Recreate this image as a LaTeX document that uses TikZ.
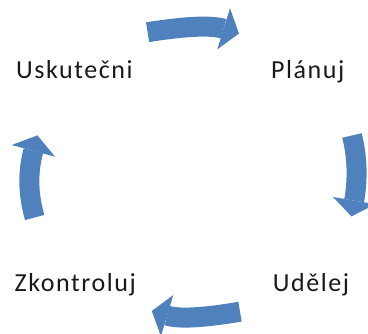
\documentclass[tikz,border=0pt]{standalone}
\usepackage{fontspec}
\setmainfont{Carlito}[LetterSpace=6]
\usetikzlibrary{calc}
\definecolor{cycleblue}{HTML}{4F81BD}
\tikzset{
  label/.style={anchor=base west, inner sep=0pt, font=\fontsize{26}{30}\selectfont, text=black!90},
  shaft/.style={draw=cycleblue, line width=20pt, line cap=butt},
  head/.style={fill=cycleblue, draw=none},
}
% curved block arrow: #1 start, #2 quadratic control, #3 head base centre,
% #4/#5 head base corners, #6 tip
\newcommand\blockarrow[6]{%
  \draw[shaft] #1 .. controls ($#1!2/3!#2$) and ($#3!2/3!#2$) .. #3;
  \fill[head] #4 -- #6 -- #5 -- cycle;
}
\begin{document}
\begin{tikzpicture}[x=1pt,y=-1pt]
  \useasboundingbox (0,0) rectangle (368,334);
  \clip (0,0) rectangle (368,334);

  \node[label] (usk) at (16,78.3) {Uskutečni};
  \node[label] (plan) at (271,78.3) {Plánuj};
  \node[label] (zkon) at (14.5,291.5) {Zkontroluj};
  \node[label] (udel) at (272.7,291.5) {Udělej};

  % top: Uskutečni -> Plánuj
  \blockarrow{(147.6,32.2)}{(205.2,23.1)}{(223.65,28.8)}{(230.0,8.25)}{(217.3,49.35)}{(238.95,33.5)}
  % right: Plánuj -> Udělej
  \blockarrow{(352,135.5)}{(359.9,167.5)}{(354.2,200.6)}{(333.0,197.0)}{(375.4,204.2)}{(351.5,216.4)}
  % bottom: Udělej -> Zkontroluj
  \blockarrow{(240,311.7)}{(185.0,321.0)}{(167.1,315.6)}{(173.3,295.0)}{(160.9,336.2)}{(151.8,311.0)}
  % left: Zkontroluj -> Uskutečni
  \blockarrow{(34.7,217.5)}{(24.7,182.9)}{(33.35,150.85)}{(11.7,145.0)}{(55.0,156.7)}{(37.5,135.4)}
\end{tikzpicture}
\end{document}
